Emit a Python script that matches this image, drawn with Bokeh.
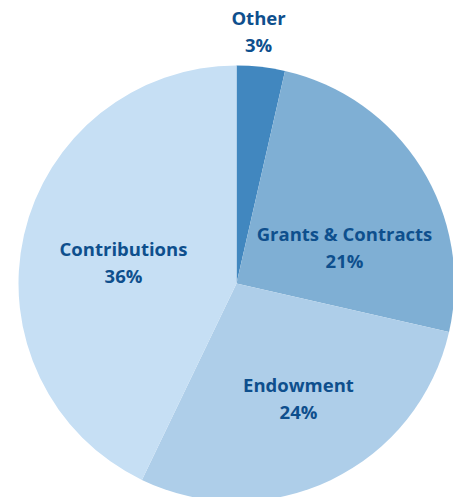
import math
from bokeh.plotting import figure
from bokeh.models import Range1d, ColumnDataSource
from bokeh.core.properties import value
from bokeh.embed import file_html
from bokeh.resources import INLINE

categories = ["Other", "Grants & Contracts", "Endowment", "Contributions"]
percents = [3, 21, 24, 36]
colors = ["#4187bf", "#7fafd4", "#aecee9", "#c6dff4"]

# label anchor points in page pixels (x, y of the name line)
label_pos = [(258, 17), (344, 233), (298, 384), (123, 248)]

W, H = 453, 497
p = figure(width=W, height=H, output_backend="svg", toolbar_location=None,
           x_range=Range1d(0, W), y_range=Range1d(-H, 0),
           min_border=0)
p.axis.visible = False
p.grid.visible = False
p.outline_line_color = None
p.background_fill_color = "white"
p.border_fill_color = "white"

total = sum(percents)
cx, cy, r = 236, -283, 218
starts, ends = [], []
cum = 0
for v in percents:
    starts.append(math.pi / 2 - cum / total * 2 * math.pi)
    cum += v
    ends.append(math.pi / 2 - cum / total * 2 * math.pi)

src = ColumnDataSource(dict(start=starts, end=ends, color=colors))
p.wedge(x=cx, y=cy, radius=r, start_angle="start", end_angle="end",
        direction="clock", fill_color="color", line_color=None, source=src)

names_src = ColumnDataSource(dict(
    x=[lp[0] for lp in label_pos], y=[-lp[1] for lp in label_pos],
    t=categories))
pct_src = ColumnDataSource(dict(
    x=[lp[0] for lp in label_pos], y=[-(lp[1] + 27) for lp in label_pos],
    t=[f"{v}%" for v in percents]))
for s in (names_src, pct_src):
    p.text(x="x", y="y", text="t", source=s, text_align="center",
           text_baseline="middle", text_font=value("Open Sans"),
           text_font_style="bold", text_font_size="18.5px", text_color="#0e4f8d")

open("out.html", "w").write(file_html(p, INLINE))
